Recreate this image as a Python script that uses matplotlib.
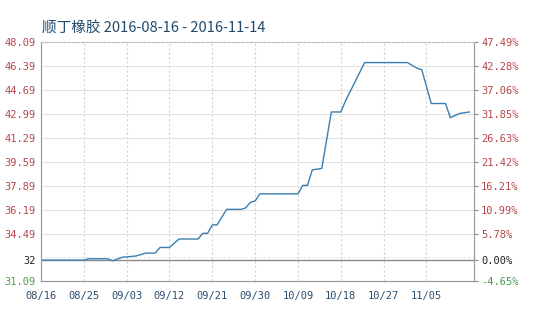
import matplotlib
matplotlib.use("Agg")
import matplotlib.pyplot as plt
import matplotlib.dates as mdates
import pandas as pd

plt.rcParams['font.family'] = ['Noto Sans CJK SC', 'DejaVu Sans']

title = '顺丁橡胶 2016-08-16 - 2016-11-14'
base = 32.605

dates = ['2016-08-16', '2016-08-25', '2016-08-26', '2016-08-30', '2016-08-31',
         '2016-09-02', '2016-09-05', '2016-09-07', '2016-09-09', '2016-09-10',
         '2016-09-12', '2016-09-14', '2016-09-18', '2016-09-19', '2016-09-20',
         '2016-09-21', '2016-09-22', '2016-09-24', '2016-09-27', '2016-09-28',
         '2016-09-29', '2016-09-30', '2016-10-01', '2016-10-09', '2016-10-10',
         '2016-10-11', '2016-10-12', '2016-10-14', '2016-10-16', '2016-10-18',
         '2016-10-19', '2016-10-23', '2016-11-01', '2016-11-02', '2016-11-03',
         '2016-11-04', '2016-11-06', '2016-11-09', '2016-11-10', '2016-11-12',
         '2016-11-14']
prices = [32.6, 32.6, 32.7, 32.7, 32.55,
          32.8, 32.9, 33.1, 33.1, 33.5,
          33.5, 34.1, 34.1, 34.5, 34.5,
          35.1, 35.1, 36.2, 36.2, 36.3,
          36.7, 36.8, 37.3, 37.3, 37.9,
          37.9, 39.0, 39.1, 43.1, 43.1,
          43.9, 46.6, 46.6, 46.4, 46.2,
          46.1, 43.7, 43.7, 42.7, 43.0,
          43.1]

left_ticks = [31.09, 32.605, 34.49, 36.19, 37.89, 39.59, 41.29, 42.99, 44.69, 46.39, 48.09]
left_labels = ['31.09', '32', '34.49', '36.19', '37.89', '39.59', '41.29', '42.99', '44.69', '46.39', '48.09']
right_labels = ['-4.65%', '0.00%', '5.78%', '10.99%', '16.21%', '21.42%', '26.63%', '31.85%', '37.06%', '42.28%', '47.49%']
x_ticks = ['2016-08-16', '2016-08-25', '2016-09-03', '2016-09-12', '2016-09-21',
           '2016-09-30', '2016-10-09', '2016-10-18', '2016-10-27', '2016-11-05']

red = '#b4474a'
green = '#4f9a4f'
tick_font = 'DejaVu Sans Mono'

fig = plt.figure(figsize=(5.38, 3.12), dpi=100)
ax = fig.add_axes([0.0762, 0.0978, 0.805, 0.769])

x = pd.to_datetime(dates)
ax.plot(x, prices, color='#3a7fb0', linewidth=1.0, zorder=3)

start = pd.Timestamp('2016-08-16')
ax.set_xlim(start, start + pd.Timedelta(days=91))
ax.set_ylim(31.09, 48.09)

# horizontal grid
for v in left_ticks[2:]:
    ax.axhline(v, color='#e2e2e2', linewidth=0.8, zorder=1)
ax.axhline(32.79, color='#e8e8e8', linewidth=0.8, linestyle=(0, (2, 2)), zorder=1)
ax.axhline(base, color='#8a8a8a', linewidth=1.0, zorder=2)

# vertical grid
xt = pd.to_datetime(x_ticks)
for t in xt[1:]:
    ax.axvline(t, color='#d4d4d4', linewidth=0.8, linestyle=(0, (2, 2)), zorder=1)

ax.set_xticks(xt)
ax.xaxis.set_major_formatter(mdates.DateFormatter('%m/%d'))
ax.tick_params(axis='x', length=0, pad=7, labelsize=7.5, labelcolor='#2c4d6e')
for lab in ax.get_xticklabels():
    lab.set_family(tick_font)

ax.set_yticks(left_ticks)
ax.set_yticklabels(left_labels)
ax.tick_params(axis='y', length=0, pad=4, labelsize=7.5)
for lab, txt in zip(ax.get_yticklabels(), left_labels):
    lab.set_family(tick_font)
    lab.set_color(green if txt == '31.09' else ('#222222' if txt == '32' else red))

ax2 = ax.twinx()
ax2.set_ylim(31.09, 48.09)
ax2.set_yticks(left_ticks)
ax2.set_yticklabels(right_labels)
ax2.tick_params(axis='y', length=3, width=0.8, color='#8a8a8a', pad=2, labelsize=7.5)
for lab, txt in zip(ax2.get_yticklabels(), right_labels):
    lab.set_family(tick_font)
    lab.set_color(green if txt == '-4.65%' else ('#222222' if txt == '0.00%' else red))

for a in (ax, ax2):
    for s in a.spines.values():
        s.set_color('#9a9a9a')
        s.set_linewidth(0.8)
    a.spines['top'].set_linestyle((0, (2, 2)))
    a.spines['top'].set_color('#c0c0c0')

fig.text(0.078, 0.91, title, fontsize=10.5, color='#1f4a6e', va='center', ha='left')

fig.savefig('out.png', dpi=100)
